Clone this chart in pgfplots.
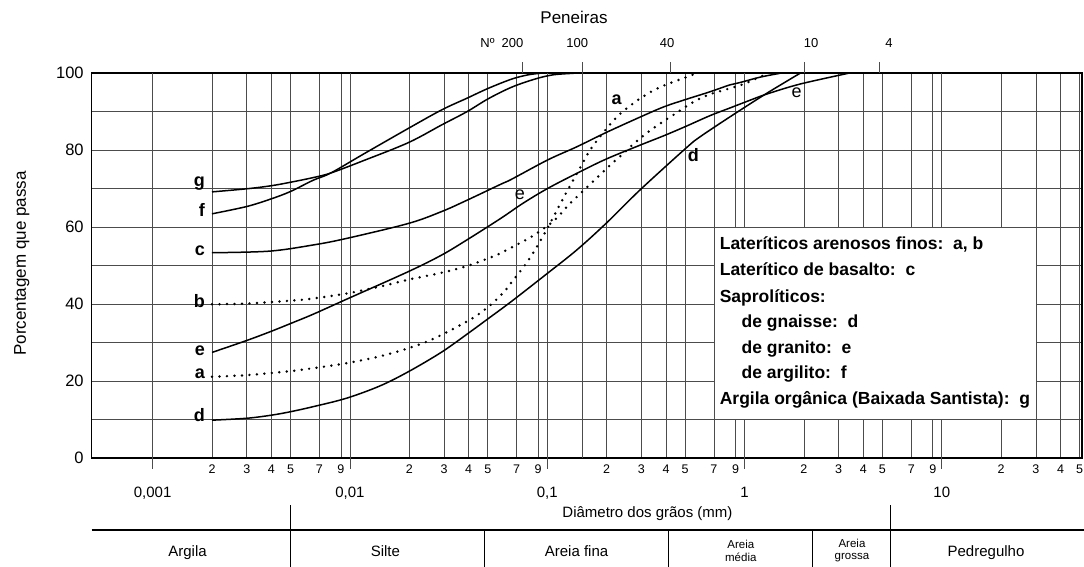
\documentclass[border=0pt]{standalone}
\usepackage{fontspec}
\setmainfont{Liberation Sans}
\usepackage{pgfplots}
\pgfplotsset{compat=1.18}
\begin{document}
\begin{tikzpicture}
\path[use as bounding box] (-91.7pt,-108.7pt) rectangle (992.3pt,458.3pt);
\begin{axis}[
  at={(0pt,0pt)}, anchor=south west,
  scale only axis, width=990.3pt, height=385pt,
  xmode=log, xmin=4.912e-4, xmax=51.35, ymin=0, ymax=100,
  clip=false,
  axis line style={line width=1.6pt, black},
  tick pos=left,
  major tick length=0pt, minor tick length=0pt,
  xtick={0.002,0.003,0.004,0.005,0.007,0.009,0.02,0.03,0.04,0.05,0.07,0.09,0.2,0.3,0.4,0.5,0.7,0.9,2,3,4,5,7,9,20,30,40,50},
  xticklabels={2,3,4,5,7,9,2,3,4,5,7,9,2,3,4,5,7,9,2,3,4,5,7,9,2,3,4,5},
  extra x ticks={0.001,0.01,0.1,1,10},
  extra x tick labels={{0,001},{0,01},{0,1},{1},{10}},
  extra x tick style={grid=major, xticklabel style={yshift=-21.6pt, font=\fontsize{15}{15}\selectfont}},
  xticklabel style={font=\fontsize{12.5}{12.5}\selectfont, yshift=-3.4pt},
  ytick={0,20,40,60,80,100},
  yticklabels={0,20,40,60,80,100},
  minor ytick={10,30,50,70,90},
  yticklabel style={font=\fontsize{16.5}{16.5}\selectfont, xshift=-4.5pt},
  grid=both,
  major grid style={black!70, line width=0.7pt},
  minor grid style={black!70, line width=0.7pt},
  solidcurve/.style={black, line width=1.5pt, smooth, tension=0.55, mark=none},
  dotcurve/.style={black, line width=2.7pt, line cap=round, dash pattern=on 0pt off 7.5pt, smooth, tension=0.55, mark=none},
]
% decade tick marks below the axis
\draw[black!70, line width=0.7pt] (axis cs:0.001,0) -- (axis cs:0.001,-2.86);
\draw[black!70, line width=0.7pt] (axis cs:0.01,0) -- (axis cs:0.01,-2.86);
\draw[black!70, line width=0.7pt] (axis cs:0.1,0) -- (axis cs:0.1,-2.86);
\draw[black!70, line width=0.7pt] (axis cs:1,0) -- (axis cs:1,-2.86);
\draw[black!70, line width=0.7pt] (axis cs:10,0) -- (axis cs:10,-2.86);
% sieves
\draw[black!70, line width=0.7pt] (axis cs:0.15,0) -- (axis cs:0.15,103);
\draw[black!70, line width=0.7pt] (axis cs:0.075,100) -- (axis cs:0.075,103);
\draw[black!70, line width=0.7pt] (axis cs:0.42,100) -- (axis cs:0.42,103);
\draw[black!70, line width=0.7pt] (axis cs:2,100) -- (axis cs:2,103);
\draw[black!70, line width=0.7pt] (axis cs:4.8,100) -- (axis cs:4.8,103);
\node[font=\fontsize{13}{13}\selectfont] (s200) at (axis cs:0.0667,107.8) {200};
\node[font=\fontsize{13}{13}\selectfont, anchor=east] at (s200.west) {Nº};
\node[font=\fontsize{13}{13}\selectfont] at (axis cs:0.142,107.8) {100};
\node[font=\fontsize{13}{13}\selectfont] at (axis cs:0.4048,107.8) {40};
\node[font=\fontsize{13}{13}\selectfont] at (axis cs:2.174,107.8) {10};
\node[font=\fontsize{13}{13}\selectfont] at (axis cs:5.40,107.8) {4};
\node[font=\fontsize{17}{17}\selectfont] at (axis cs:0.1367,114.5) {Peneiras};
% y label
\node[rotate=90, font=\fontsize{17}{17}\selectfont] at (axis cs:2.171e-4,50.6) {Porcentagem que passa};
% x label and classification table
\node[font=\fontsize{15}{15}\selectfont] at (axis cs:0.3223,-14.29) {Diâmetro dos grãos (mm)};
\draw[line width=1.6pt] (axis cs:4.912e-4,-18.62) -- (axis cs:53,-18.62);
\draw[line width=0.8pt] (axis cs:0.005,-12.13) -- (axis cs:0.005,-28.4);
\draw[line width=0.8pt] (axis cs:0.048,-18.62) -- (axis cs:0.048,-28.4);
\draw[line width=0.8pt] (axis cs:0.41,-18.62) -- (axis cs:0.41,-28.4);
\draw[line width=0.8pt] (axis cs:2.2,-18.62) -- (axis cs:2.2,-28.4);
\draw[line width=0.8pt] (axis cs:5.5,-12.13) -- (axis cs:5.5,-28.4);
\begin{scope}[every node/.style={anchor=base, font=\fontsize{15}{15}\selectfont}]
\node at (axis cs:0.001503,-25.4) {Argila};
\node at (axis cs:0.01513,-25.4) {Silte};
\node at (axis cs:0.1408,-25.4) {Areia fina};
\node at (axis cs:16.75,-25.4) {Pedregulho};
\end{scope}
\node[font=\fontsize{11.5}{12.5}\selectfont, align=center] at (axis cs:0.9577,-24.0) {Areia\\média};
\node[font=\fontsize{11.5}{12.5}\selectfont, align=center] at (axis cs:3.506,-24.0) {Areia\\grossa};
% legend box
\draw[fill=white, draw=black!70, line width=0.7pt] (axis cs:0.7,10) rectangle (axis cs:30,60);
\begin{scope}[every node/.style={anchor=base west, inner sep=0pt, font=\bfseries\fontsize{17.5}{17.5}\selectfont}]
\node at (axis cs:0.748,54.3) {Lateríticos arenosos finos:\ \ a, b};
\node at (axis cs:0.748,47.4) {Laterítico de basalto:\ \ c};
\node at (axis cs:0.748,40.5) {Saprolíticos:};
\node at (axis cs:0.9645,34.0) {de gnaisse:\ \ d};
\node at (axis cs:0.9645,27.2) {de granito:\ \ e};
\node at (axis cs:0.9645,20.8) {de argilito:\ \ f};
\node at (axis cs:0.748,14.0) {Argila orgânica (Baixada Santista):\ \ g};
\end{scope}
% curves
% g
\addplot[solidcurve] coordinates {(0.002,69.2) (0.003,70.0) (0.004,70.8) (0.005,71.7) (0.0065,72.9) (0.008,74.1) (0.0117,77.3) (0.0198,82.0) (0.0292,86.6) (0.0391,90.0) (0.0503,93.4) (0.0661,96.4) (0.0867,98.5) (0.107,99.6) (0.136,100)};
% f
\addplot[solidcurve] coordinates {(0.002,63.5) (0.003,65.4) (0.004,67.4) (0.005,69.3) (0.0065,72.2) (0.008,74.1) (0.0117,79.0) (0.0198,85.7) (0.0292,90.5) (0.0391,93.5) (0.0503,96.1) (0.0661,98.5) (0.08,99.6) (0.092,100)};
% c
\addplot[solidcurve] coordinates {(0.002,53.4) (0.0039,53.8) (0.0065,55.4) (0.0096,57.1) (0.0198,61.0) (0.0292,64.1) (0.0391,67.0) (0.0577,71.1) (0.0661,72.5) (0.1006,77.5) (0.1411,80.9) (0.1986,84.6) (0.2978,88.7) (0.3908,91.3) (0.5035,93.2) (0.6686,95.2) (0.8444,97.0) (0.9489,97.6) (1.2,99.0) (1.513,100)};
% e
\addplot[solidcurve] coordinates {(0.002,27.5) (0.003,30.6) (0.004,33.0) (0.005,35.0) (0.0065,37.4) (0.0096,41.3) (0.0198,48.5) (0.0292,52.8) (0.0391,56.7) (0.0577,62.2) (0.0757,66.3) (0.1006,70.1) (0.1411,74.0) (0.1986,77.7) (0.2978,81.4) (0.3908,83.8) (0.5035,86.2) (0.6686,89.0) (0.8444,91.0) (1.066,93.0) (1.296,94.6) (1.911,97.2) (3.358,100)};
% d
\addplot[solidcurve] coordinates {(0.002,9.9) (0.003,10.4) (0.004,11.2) (0.005,12.1) (0.0065,13.4) (0.0096,15.6) (0.0142,18.8) (0.0198,22.5) (0.0292,27.6) (0.0406,32.8) (0.0503,36.3) (0.0661,40.8) (0.1006,48.1) (0.1411,54.1) (0.1986,61.0) (0.2954,69.7) (0.5035,80.5) (0.5951,83.5) (0.8743,89.2) (1.296,94.8) (1.911,100)};
% b (dotted)
\addplot[dotcurve] coordinates {(0.002,40.0) (0.003,40.2) (0.0049,40.9) (0.0065,41.5) (0.0096,42.8) (0.0142,44.6) (0.0198,46.4) (0.0292,48.2) (0.0391,49.9) (0.0466,51.3) (0.0565,53.0) (0.0673,55.0) (0.0818,57.3) (0.0955,59.6) (0.1013,60.5) (0.1138,62.8) (0.1305,66.2) (0.1615,70.7) (0.204,75.7) (0.2386,78.8) (0.2732,81.6) (0.3254,84.8) (0.3849,87.4) (0.4618,90.0) (0.5401,92.3) (0.6555,94.4) (0.8444,96.1) (1.0,97.3) (1.315,100)};
% a (dotted)
\addplot[dotcurve] coordinates {(0.002,21.2) (0.003,21.6) (0.0049,22.6) (0.0065,23.4) (0.0096,24.7) (0.0142,26.5) (0.0198,28.6) (0.0264,31.0) (0.0391,35.5) (0.0466,38.0) (0.0513,39.7) (0.0599,43.0) (0.0673,46.3) (0.0772,50.2) (0.0867,54.1) (0.0919,56.3) (0.1013,60.2) (0.1117,64.3) (0.1231,68.4) (0.1496,76.2) (0.1661,80.3) (0.2002,85.7) (0.2312,89.2) (0.2732,92.2) (0.3254,94.8) (0.3849,96.7) (0.471,98.4) (0.5725,100)};
% curve labels
\begin{scope}[every node/.style={anchor=mid east, inner sep=0pt, xshift=-7pt, font=\bfseries\fontsize{18}{18}\selectfont}]
\node at (axis cs:0.002,71.2) {g};
\node at (axis cs:0.002,63.5) {f};
\node at (axis cs:0.002,53.4) {c};
\node at (axis cs:0.002,39.8) {b};
\node at (axis cs:0.002,27.3) {e};
\node at (axis cs:0.002,21.5) {a};
\node at (axis cs:0.002,10.2) {d};
\end{scope}
\node[anchor=mid, inner sep=0pt, font=\bfseries\fontsize{18}{18}\selectfont] at (axis cs:0.225,92.6) {a};
\node[anchor=mid, inner sep=0pt, font=\fontsize{18}{18}\selectfont] at (axis cs:0.0728,68.0) {e};
\node[anchor=mid, inner sep=0pt, font=\bfseries\fontsize{18}{18}\selectfont] at (axis cs:0.55,77.9) {d};
\node[anchor=mid, inner sep=0pt, font=\fontsize{18}{18}\selectfont] at (axis cs:1.839,94.4) {e};
\end{axis}
\end{tikzpicture}
\end{document}
